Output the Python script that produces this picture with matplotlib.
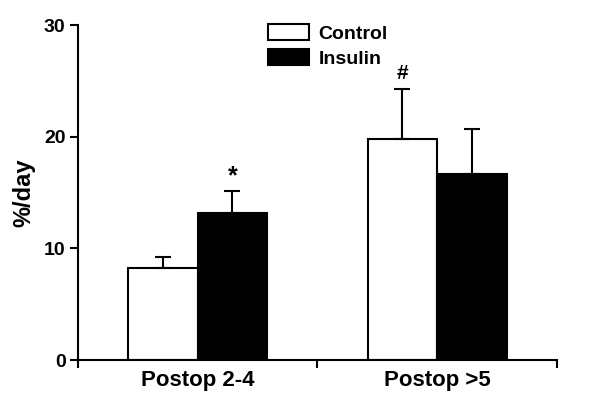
import numpy as np
import matplotlib
matplotlib.use("Agg")
import matplotlib.pyplot as plt

plt.rcParams['font.family'] = ['Liberation Sans', 'DejaVu Sans']
plt.rcParams['font.weight'] = 'bold'

# data
groups = ["Postop 2-4", "Postop >5"]
control = [8.2, 19.8]
control_err = [1.05, 4.5]
insulin = [13.2, 16.7]
insulin_err = [1.95, 3.95]
marks_control = ["", "#"]
marks_insulin = ["*", ""]

fig = plt.figure(figsize=(6, 4.08), dpi=100)
ax = fig.add_axes([0.13, 0.1176, 0.798, 0.8211])

centers = np.arange(len(groups)) + 0.5
w = 0.29
ax.bar(centers - w / 2, control, w, yerr=[np.zeros(2), control_err],
       color="white", edgecolor="black", linewidth=1.5, label="Control",
       error_kw=dict(elinewidth=1.5, capsize=6, capthick=1.5, ecolor="black"))
ax.bar(centers + w / 2, insulin, w, yerr=[np.zeros(2), insulin_err],
       color="black", edgecolor="black", linewidth=1.5, label="Insulin",
       error_kw=dict(elinewidth=1.5, capsize=6, capthick=1.5, ecolor="black"))

for i in range(len(groups)):
    if marks_control[i]:
        ax.text(centers[i] - w / 2, control[i] + control_err[i] + 0.5, marks_control[i],
                ha="center", va="bottom", fontsize=15, fontweight="bold")
    if marks_insulin[i]:
        ax.text(centers[i] + w / 2, insulin[i] + insulin_err[i] + 0.2, marks_insulin[i],
                ha="center", va="bottom", fontsize=18, fontweight="bold")

ax.set_xlim(0, 2)
ax.set_ylim(0, 30)
ax.set_yticks([0, 10, 20, 30])
ax.set_xticks([0, 1, 2])
ax.set_xticklabels([])
ax.set_xticks(centers, minor=True)
ax.set_xticklabels(groups, minor=True, fontsize=16, fontweight="bold")
ax.tick_params(axis="x", which="minor", length=0, pad=7)
ax.tick_params(axis="both", which="major", direction="out", length=6, width=1.5,
               labelsize=14, pad=3)
ax.set_ylabel("%/day", fontsize=17, fontweight="bold", labelpad=6)

for s in ["top", "right"]:
    ax.spines[s].set_visible(False)
for s in ["left", "bottom"]:
    ax.spines[s].set_linewidth(1.5)

leg = ax.legend(loc="upper left", bbox_to_anchor=(0.36, 1.055), frameon=False,
                fontsize=14, handlelength=2.1, handleheight=0.85,
                labelspacing=0.35, handletextpad=0.5)
for t in leg.get_texts():
    t.set_fontweight("bold")

fig.savefig("out.png", dpi=100)
